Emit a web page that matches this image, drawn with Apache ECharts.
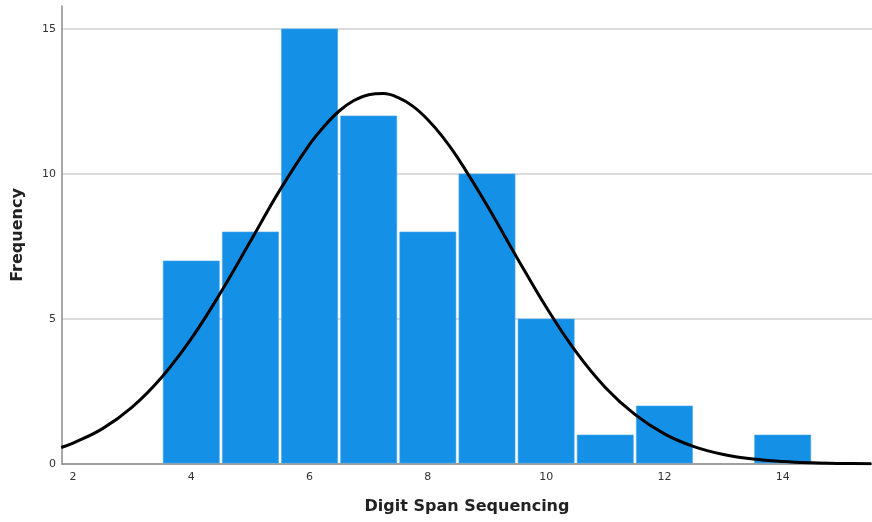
<!DOCTYPE html>
<html>
<head>
<meta charset="utf-8">
<script src="https://cdn.jsdelivr.net/npm/echarts@6/dist/echarts.min.js"></script>
<style>html,body{margin:0;padding:0;background:#fff}#c{width:872px;height:522px}</style>
</head>
<body>
<div id="c"></div>
<script>
// Histogram bins (bin centre) and frequencies
var binCenters = [4, 5, 6, 7, 8, 9, 10, 11, 12, 13, 14];
var frequencies = [7, 8, 15, 12, 8, 10, 5, 1, 2, 0, 1];
// Normal curve
var curveX = [1.8, 2, 2.5, 3, 3.5, 4, 4.5, 5, 5.5, 6, 6.25, 6.5, 6.75, 7, 7.25, 7.5, 7.75, 8, 8.25, 8.5, 9, 9.5, 10, 10.5, 11, 11.5, 12, 12.5, 13, 13.5, 14, 14.5, 15, 15.5];
var curveY = [0.57, 0.72, 1.22, 1.96, 2.99, 4.32, 5.92, 7.68, 9.45, 11.02, 11.65, 12.17, 12.53, 12.73, 12.77, 12.63, 12.33, 11.87, 11.28, 10.57, 8.92, 7.14, 5.41, 3.88, 2.64, 1.71, 1.04, 0.60, 0.33, 0.17, 0.085, 0.04, 0.018, 0.007];
var xTicks = [2, 4, 6, 8, 10, 12, 14];
var yTicks = [0, 5, 10, 15];

var barData = binCenters.map(function (c, i) { return [c, frequencies[i]]; });
var lineData = curveX.map(function (x, i) { return [x, curveY[i]]; });

var chart = echarts.init(document.getElementById('c'), null, {renderer: 'canvas'});
chart.setOption({
  animation: false,
  backgroundColor: '#ffffff',
  grid: {left: 62, right: 0, top: 6, bottom: 58, containLabel: false},
  xAxis: {
    type: 'value', min: 1.814, max: 15.51,
    name: 'Digit Span Sequencing', nameLocation: 'middle', nameGap: 35,
    nameTextStyle: {fontFamily: 'DejaVu Sans', fontWeight: 'bold', fontSize: 16, color: '#222'},
    axisLine: {show: true, lineStyle: {color: '#8c8c8c', width: 1.5}},
    axisTick: {show: false, customValues: xTicks},
    axisLabel: {customValues: xTicks, fontFamily: 'DejaVu Sans', fontSize: 11, color: '#333', margin: 8},
    splitLine: {show: false}
  },
  yAxis: {
    type: 'value', min: 0, max: 15.79,
    name: 'Frequency', nameLocation: 'middle', nameGap: 36, nameRotate: 90,
    nameTextStyle: {fontFamily: 'DejaVu Sans', fontWeight: 'bold', fontSize: 16, color: '#222'},
    axisLine: {show: true, lineStyle: {color: '#8c8c8c', width: 1.5}},
    axisTick: {show: false, customValues: yTicks},
    axisLabel: {customValues: yTicks, fontFamily: 'DejaVu Sans', fontSize: 11, color: '#333', margin: 6},
    splitLine: {show: true, lineStyle: {color: '#d0d0d0', width: 1.5}}
  },
  series: [
    {
      type: 'custom',
      data: barData,
      renderItem: function (params, api) {
        var c = api.value(0), v = api.value(1);
        if (!v) return null;
        var p0 = api.coord([c - 0.5, v]);
        var p1 = api.coord([c + 0.5, 0]);
        return {
          type: 'rect',
          shape: {x: p0[0] + 1.5, y: p0[1], width: p1[0] - p0[0] - 3, height: p1[1] - p0[1] - 1},
          style: {fill: '#1490e6', stroke: '#4aa8ee', lineWidth: 0.6}
        };
      },
      z: 2
    },
    {
      type: 'line',
      data: lineData,
      smooth: 0.4,
      showSymbol: false,
      lineStyle: {color: '#000', width: 3},
      z: 3
    }
  ]
});
</script>
</body>
</html>
